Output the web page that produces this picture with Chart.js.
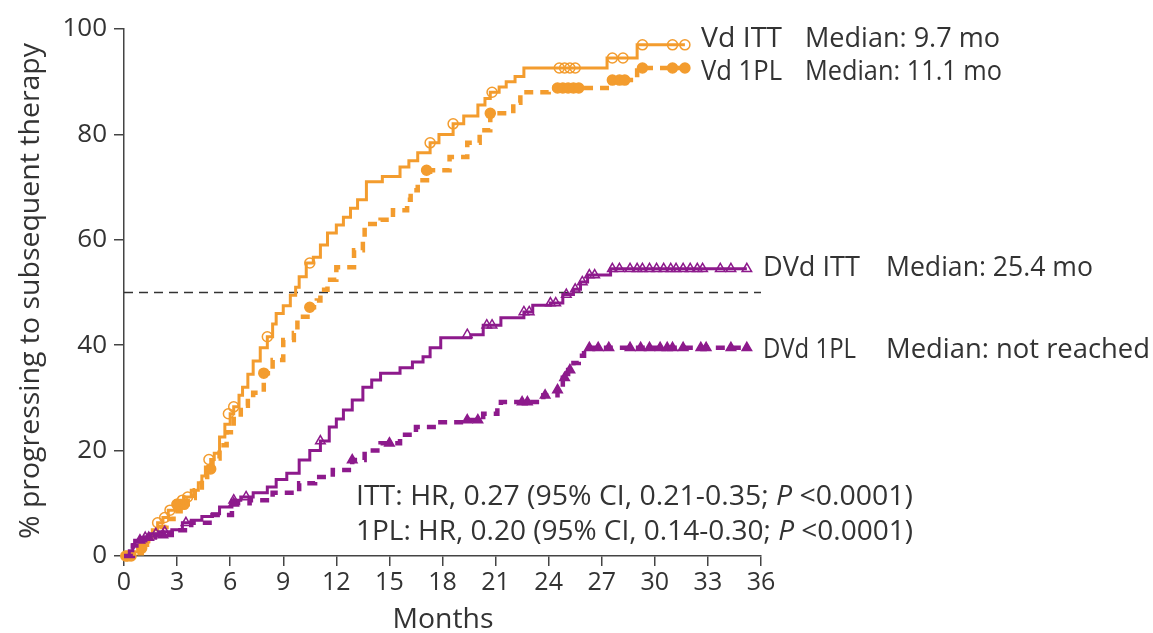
<!DOCTYPE html>
<html>
<head>
<meta charset="utf-8">
<script src="https://cdn.jsdelivr.net/npm/chart.js@4.4.1/dist/chart.umd.min.js"></script>
<style>
  html, body { margin: 0; padding: 0; background: #fff; }
</style>
</head>
<body>
<canvas id="ttnt-chart" width="1153" height="633"></canvas>
<script>
// Cumulative incidence of subsequent therapy, [month, %]
var vdItt = [[0,0],[0.5,0.8],[0.8,1.7],[1.1,2.8],[1.4,3.6],[1.6,5],[1.9,6.3],[2.2,7.3],[2.5,8.7],[2.9,9.8],
  [3.2,10.6],[3.4,11.2],[3.8,12.5],[4.2,13.9],[4.4,15.2],[4.6,16.9],[4.9,18.3],[5.1,19.5],[5.4,22.6],[5.7,25],
  [6.0,27],[6.2,28.3],[6.5,30.5],[6.7,32],[7.0,34.5],[7.3,37],[7.7,39.5],[8.1,41.6],[8.4,44],[8.6,46],
  [9.0,47.5],[9.4,49.5],[9.7,51],[9.9,53],[10.3,55.6],[10.7,56.7],[11.1,59],[11.5,61.3],[12.0,62.8],[12.4,64.3],
  [12.8,66],[13.2,67.6],[13.7,71],[14.6,72],[15.6,73.8],[16.1,75],[16.6,76.5],[17.3,78.4],[17.8,80],[18.6,82],
  [19.2,83.5],[20.0,85.6],[20.4,86.8],[20.7,88],[21.2,89],[21.6,90],[22.1,91],[22.6,92.6],[27.3,94.5],[29.0,97],[31.7,97]];

var vd1pl = [[0,0],[0.6,0.5],[1.0,1.5],[1.3,2.8],[1.6,4],[2.0,5.5],[2.4,7],[2.8,8.5],[3.2,9.8],[3.6,11],
  [4.0,12.5],[4.4,14.5],[4.7,16.5],[5.0,18.5],[5.4,21],[5.8,23.5],[6.2,26],[6.6,28.5],[7.0,30],[7.3,31],
  [7.9,34.7],[8.4,37.2],[9.0,41],[9.6,42.3],[9.8,45.4],[10.5,47.2],[10.9,48.5],[11.1,50.5],[11.5,52.4],[12.0,54.8],
  [13.0,58],[13.5,60],[13.6,63],[14.5,63.8],[15.2,65.6],[16.0,67.6],[16.2,69.4],[16.6,71.3],[17.3,73.2],[18.4,75.7],
  [19.4,78.4],[20.1,80.8],[20.7,84],[22.0,86],[22.4,88],[24.0,88.8],[27.5,90.3],[29.0,92.6],[31.7,92.6]];

var dvdItt = [[0,0],[0.3,1],[0.5,2.2],[0.6,3],[1.0,3.5],[1.5,4.2],[2.0,4.6],[2.7,5],[3.3,6.3],[3.8,6.8],
  [4.4,7.5],[5.0,8],[5.4,9.3],[6.1,10.6],[6.6,11.2],[7.3,12],[8.1,13.1],[8.6,14.5],[9.2,15.7],[9.9,18.2],
  [10.5,20],[11.1,21.8],[11.6,24.5],[12.0,26],[12.4,27.7],[12.9,29.6],[13.5,32],[14.0,33.4],[14.5,34.7],[15.6,35.7],
  [16.3,36.8],[16.9,37.8],[17.3,39.5],[17.9,41.4],[19.6,42],[20.3,43.8],[21.3,45.2],[22.6,46.3],[23.1,47.6],[24.1,48],
  [24.8,49.6],[25.4,50.6],[25.8,52],[26.2,53.3],[27.5,54.5],[35.2,54.5]];

var dvd1pl = [[0,0],[0.5,2],[0.7,3],[1.2,3.5],[1.75,4],[2.7,4.9],[3.8,6.3],[5.0,7.8],[6.1,10],[7.1,10.6],
  [8.4,12],[9.9,13.8],[10.8,15],[11.8,16.3],[12.9,18.2],[13.6,20],[14.5,21.4],[15.6,23],[16.5,24.5],[17.5,25.4],
  [19.4,25.8],[20.3,27],[21.1,28.3],[21.3,29.2],[23.7,30.5],[24.5,31.5],[24.8,33.8],[25.1,35.3],[25.4,36.6],[25.7,38],
  [26.0,39.5],[35.2,39.5]];

// Censored patients
var vdIttCensor = [[0.2,0],[1.9,6.3],[2.3,7.3],[2.6,8.7],[3.0,9.8],[3.3,10.6],[3.6,11.2],[4.8,18.3],[5.9,27],[6.2,28.3],
  [8.1,41.6],[10.5,55.6],[17.3,78.4],[18.6,82],[20.8,88],[24.6,92.6],[24.9,92.6],[25.2,92.6],[25.5,92.6],
  [27.6,94.5],[28.2,94.5],[29.3,97],[31.0,97],[31.7,97]];
var vd1plCensor = [[0.1,0],[0.4,0],[1.0,1.5],[3.0,9.8],[3.4,9.8],[4.9,16.5],[7.9,34.7],[10.5,47.2],[17.1,73.2],[20.7,84],
  [24.5,88.8],[24.8,88.8],[25.1,88.8],[25.4,88.8],[25.7,88.8],[27.6,90.3],[28.0,90.3],[28.3,90.3],
  [29.3,92.6],[31.0,92.6],[31.7,92.6]];
var dvdIttCensor = [[1.2,3.5],[1.8,4.2],[2.3,4.6],[3.5,6.3],[6.2,10.6],[6.9,11.2],[11.1,21.8],[19.4,42],[20.5,43.8],
  [20.8,43.8],[22.6,46.3],[22.9,46.3],[24.1,48],[24.4,48],[25.0,49.6],[25.5,50.6],[25.9,52],[26.3,53.3],[26.6,53.3],
  [27.6,54.5],[28.0,54.5],[28.6,54.5],[29.0,54.5],[29.3,54.5],[29.7,54.5],[30.1,54.5],[30.5,54.5],[30.9,54.5],
  [31.2,54.5],[31.6,54.5],[32.0,54.5],[32.4,54.5],[32.7,54.5],[33.7,54.5],[34.3,54.5],[35.2,54.5]];
var dvd1plCensor = [[0.9,3],[1.4,3.5],[2.2,4],[6.2,10],[12.9,18.2],[15.0,21.4],[19.4,25.8],[20.0,25.8],[22.5,29.2],
  [22.8,29.2],[23.8,30.5],[24.5,31.5],[24.9,33.8],[25.2,35.3],[26.3,39.5],[26.8,39.5],[27.4,39.5],[28.6,39.5],
  [29.2,39.5],[29.7,39.5],[30.3,39.5],[30.7,39.5],[31.0,39.5],[31.6,39.5],[32.6,39.5],[32.9,39.5],[34.3,39.5],[35.2,39.5]];

var medianLine = [[0,50],[36,50]];

var xTicks = [0, 36, 3];    // min, max, step
var yTicks = [0, 100, 20];

var ORANGE = '#F39C2E';
var PURPLE = '#8D1A8C';
var INK = '#333333';
var FONT = '"Open Sans"';

function pts(arr) {
  return arr.map(function (p) { return { x: p[0], y: p[1] }; });
}

// step curve: value jumps at each listed month and holds until the next one
function curve(data, color, dashed) {
  return {
    type: 'line', data: pts(data), stepped: 'before',
    borderColor: color, borderWidth: dashed ? 4.5 : 3,
    borderDash: dashed ? [9, 7] : [], pointRadius: 0, clip: 12
  };
}

function censor(data, color, style, filled) {
  return {
    type: 'scatter', data: pts(data), showLine: false,
    pointStyle: style, pointRadius: style === 'triangle' ? 5.5 : 5,
    pointBorderColor: color, pointBorderWidth: 1.5,
    pointBackgroundColor: filled ? color : 'rgba(255,255,255,0)', clip: 12
  };
}

// draws a run of text pieces squeezed to a given width
function drawRun(ctx, parts, x, y, width, size) {
  var natural = 0;
  parts.forEach(function (p) {
    ctx.font = (p[1] ? 'italic ' : '') + size + 'px ' + FONT;
    natural += ctx.measureText(p[0]).width;
  });
  var sx = width / natural;
  ctx.save();
  ctx.translate(x, y);
  ctx.scale(sx, 1);
  var cx = 0;
  parts.forEach(function (p) {
    ctx.font = (p[1] ? 'italic ' : '') + size + 'px ' + FONT;
    ctx.fillText(p[0], cx, 0);
    cx += ctx.measureText(p[0]).width;
  });
  ctx.restore();
}

var labelsPlugin = {
  id: 'labels',
  afterDraw: function (chart) {
    var ctx = chart.ctx;
    ctx.save();
    ctx.fillStyle = INK;
    ctx.textAlign = 'left';
    ctx.textBaseline = 'middle';

    drawRun(ctx, [['Vd ITT']], 701, 39, 81, 28);
    drawRun(ctx, [['Median: 9.7 mo']], 805, 39, 195, 28);
    drawRun(ctx, [['Vd 1PL']], 701, 72, 81, 28);
    drawRun(ctx, [['Median: 11.1 mo']], 805, 72, 197, 28);
    drawRun(ctx, [['DVd ITT']], 763, 268, 97, 28);
    drawRun(ctx, [['Median: 25.4 mo']], 886, 268, 207, 28);
    drawRun(ctx, [['DVd 1PL']], 763, 350, 93, 28);
    drawRun(ctx, [['Median: not reached']], 886, 350, 264, 28);

    drawRun(ctx, [['ITT: HR, 0.27 (95% CI, 0.21-0.35; '], ['P', true], [' <0.0001)']], 356, 497, 557, 28);
    drawRun(ctx, [['1PL: HR, 0.20 (95% CI, 0.14-0.30; '], ['P', true], [' <0.0001)']], 356, 532, 557, 28);

    // axis titles
    var xs = chart.scales.x;
    drawRun(ctx, [['Months']], xs.getPixelForValue(18) - 50, 620, 101, 28);
    ctx.translate(31, 291);
    ctx.rotate(-Math.PI / 2);
    drawRun(ctx, [['% progressing to subsequent therapy']], -248, 0, 496, 28);
    ctx.restore();
  }
};

var axisStyle = {
  grid: { drawOnChartArea: false, drawTicks: true, tickLength: 10, color: '#444', lineWidth: 1.5 },
  border: { display: true, color: '#444', width: 1.5 }
};

new Chart(document.getElementById('ttnt-chart').getContext('2d'), {
  data: {
    datasets: [
      censor(dvdIttCensor, PURPLE, 'triangle', false),
      censor(dvd1plCensor, PURPLE, 'triangle', true),
      curve(dvdItt, PURPLE, false),
      curve(dvd1pl, PURPLE, true),
      censor(vdIttCensor, ORANGE, 'circle', false),
      censor(vd1plCensor, ORANGE, 'circle', true),
      curve(vdItt, ORANGE, false),
      curve(vd1pl, ORANGE, true),
      {
        type: 'line', data: pts(medianLine), borderColor: '#333', borderWidth: 1.5,
        borderDash: [9, 6], pointRadius: 0
      }
    ]
  },
  options: {
    responsive: false,
    animation: false,
    layout: { padding: { left: 0, top: 29, right: 392, bottom: 0 } },
    plugins: { legend: { display: false }, tooltip: { enabled: false } },
    scales: {
      x: Object.assign({
        type: 'linear', min: xTicks[0], max: xTicks[1],
        ticks: { stepSize: xTicks[2], color: INK, padding: 2, font: { family: FONT, size: 25 } },
        afterFit: function (s) { s.height = 77; }
      }, axisStyle),
      y: Object.assign({
        type: 'linear', min: yTicks[0], max: yTicks[1],
        ticks: { stepSize: yTicks[2], color: INK, padding: 7, font: { family: FONT, size: 26 } },
        afterFit: function (s) { s.width = 124; }
      }, axisStyle)
    }
  },
  plugins: [labelsPlugin]
});
</script>
</body>
</html>
